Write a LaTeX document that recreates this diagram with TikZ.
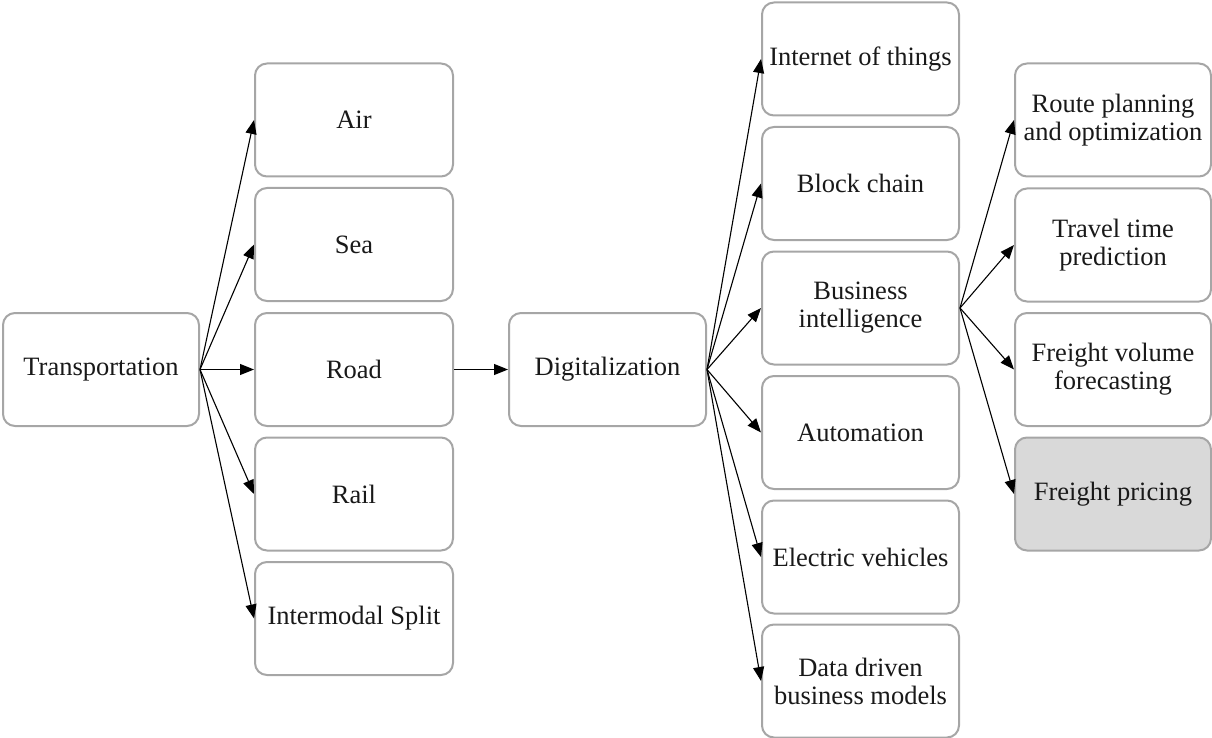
\documentclass[tikz,border=0pt]{standalone}
\usepackage{fontspec}
\setmainfont{Liberation Serif}
\usetikzlibrary{arrows.meta}
\definecolor{boxline}{RGB}{166,166,166}
\definecolor{boxshade}{RGB}{217,217,217}
\tikzset{
  card/.style={draw=boxline, line width=2pt, rounded corners=12pt, fill=white,
    minimum width=196pt, minimum height=113pt, align=center, inner sep=2pt,
    font=\fontsize{26.5}{28}\selectfont, text=black!90},
  link/.style={-{Triangle[length=14pt,width=11pt]}, line width=1.1pt, black},
}
\begin{document}
\begin{tikzpicture}[x=1pt,y=-1pt]
\useasboundingbox (0,0) rectangle (1212,738);

% root and transport modes
\node[card] (trans) at (101,369.5) {Transportation};
\node[card, minimum width=198pt] (air)   at (354,120)   {Air};
\node[card, minimum width=198pt] (sea)   at (354,244.5) {Sea};
\node[card, minimum width=198pt] (road)  at (354,369.5) {Road};
\node[card, minimum width=198pt] (rail)  at (354,494)   {Rail};
\node[card, minimum width=198pt] (inter) at (354,618.5) {Intermodal Split};

% digitalization and its technologies
\node[card, minimum width=197pt] (digi) at (607.5,369.5) {Digitalization};
\node[card, minimum width=197pt] (iot)   at (860.5,59)    {Internet of things};
\node[card, minimum width=197pt] (block) at (860.5,183.5) {Block chain};
\node[card, minimum width=197pt] (bi)    at (860.5,308)   {Business\\intelligence};
\node[card, minimum width=197pt] (auto)  at (860.5,432.5) {Automation};
\node[card, minimum width=197pt] (ev)    at (860.5,557)   {Electric vehicles};
\node[card, minimum width=197pt] (data)  at (860.5,681)   {Data driven\\business models};

% business intelligence applications
\node[card] (route)  at (1113,120)   {Route planning\\and optimization};
\node[card] (travel) at (1113,245)   {Travel time\\prediction};
\node[card] (fvol)   at (1113,369.5) {Freight volume\\forecasting};
\node[card, fill=boxshade] (price) at (1113,494) {Freight pricing};

% connectors
\foreach \t in {air,sea,road,rail,inter}
  \draw[link] (trans.east) -- (\t.west);
\draw[link] (road.east) -- (digi.west);
\foreach \t in {iot,block,bi,auto,ev,data}
  \draw[link] (digi.east) -- (\t.west);
\foreach \t in {route,travel,fvol,price}
  \draw[link] (bi.east) -- (\t.west);
\end{tikzpicture}
\end{document}
